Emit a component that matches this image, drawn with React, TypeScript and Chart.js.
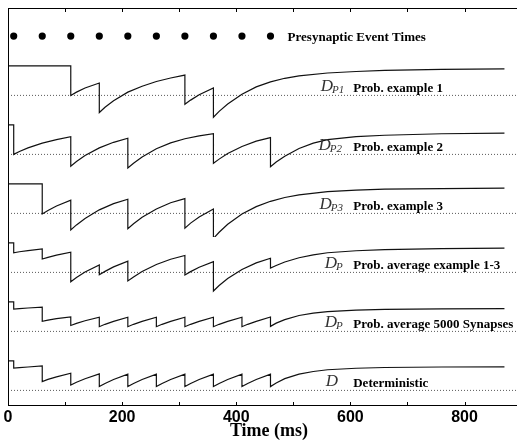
import React, { useEffect, useRef } from 'react';
import { Chart, registerables } from 'chart.js';

Chart.register(...registerables);

// ---------- data (time in ms, relative depression level D) ----------
const eventTimes = [10, 60, 110, 160, 210, 260, 310, 360, 410, 460];

const probEx1: [number, number][] = [
  [0, 1], [110, 1], [110, 0.5], [120, 0.555], [135, 0.625], [160, 0.71],
  [160, 0.21], [170, 0.3], [185, 0.41], [210, 0.555], [235, 0.655], [260, 0.735], [285, 0.795], [310, 0.845],
  [310, 0.35], [320, 0.42], [335, 0.51], [360, 0.625],
  [360, 0.13], [370, 0.23], [385, 0.355], [410, 0.52], [435, 0.645], [460, 0.73], [485, 0.79], [510, 0.83],
  [560, 0.88], [610, 0.905], [660, 0.925], [760, 0.94], [870, 0.948],
];

const probEx2: [number, number][] = [
  [0, 1], [10, 1], [10, 0.5], [20, 0.55], [35, 0.61], [60, 0.69], [85, 0.75], [110, 0.8],
  [110, 0.3], [120, 0.38], [135, 0.48], [160, 0.61], [185, 0.705], [210, 0.775],
  [210, 0.27], [220, 0.35], [235, 0.455], [260, 0.595], [285, 0.695], [310, 0.765], [335, 0.815], [360, 0.85],
  [360, 0.35], [370, 0.42], [385, 0.515], [410, 0.635], [435, 0.725], [460, 0.785],
  [460, 0.29], [470, 0.37], [485, 0.47], [510, 0.6], [535, 0.69], [560, 0.75], [610, 0.8], [660, 0.825],
  [760, 0.85], [870, 0.86],
];

const probEx3: [number, number][] = [
  [0, 1], [60, 1], [60, 0.49], [70, 0.55], [85, 0.625], [110, 0.725],
  [110, 0.22], [120, 0.305], [135, 0.415], [160, 0.56], [185, 0.665], [210, 0.74],
  [210, 0.24], [220, 0.325], [235, 0.435], [260, 0.575], [285, 0.68], [310, 0.75],
  [310, 0.25], [320, 0.335], [335, 0.44], [360, 0.575],
  [360, 0.075], [370, 0.18], [385, 0.315], [410, 0.49], [435, 0.615], [460, 0.705], [485, 0.77], [510, 0.815],
  [560, 0.87], [610, 0.895], [660, 0.91], [760, 0.92], [870, 0.927],
];

const probAvg13: [number, number][] = [
  [0, 1], [10, 1], [10, 0.833], [20, 0.85], [35, 0.87], [60, 0.897],
  [60, 0.727], [70, 0.755], [85, 0.792], [110, 0.842],
  [110, 0.34], [120, 0.413], [135, 0.507], [160, 0.627],
  [160, 0.46], [170, 0.517], [185, 0.593], [210, 0.69],
  [210, 0.355], [220, 0.423], [235, 0.515], [260, 0.635], [285, 0.723], [310, 0.787],
  [310, 0.455], [320, 0.513], [335, 0.588], [360, 0.683],
  [360, 0.185], [370, 0.277], [385, 0.395], [410, 0.548], [435, 0.662], [460, 0.74],
  [460, 0.575], [470, 0.618], [485, 0.677], [510, 0.748], [535, 0.796], [560, 0.833], [610, 0.867],
  [660, 0.887], [760, 0.903], [870, 0.912],
];

const prob5000: [number, number][] = [
  [0, 1], [10, 1], [10, 0.88], [20, 0.887], [35, 0.897], [60, 0.91],
  [60, 0.67], [70, 0.69], [85, 0.715], [110, 0.745],
  [110, 0.6], [120, 0.635], [135, 0.68], [160, 0.74],
  [160, 0.58], [170, 0.62], [185, 0.67], [210, 0.74],
  [210, 0.58], [220, 0.62], [235, 0.67], [260, 0.74],
  [260, 0.58], [270, 0.62], [285, 0.67], [310, 0.74],
  [310, 0.58], [320, 0.62], [335, 0.67], [360, 0.74],
  [360, 0.58], [370, 0.62], [385, 0.67], [410, 0.74],
  [410, 0.58], [420, 0.62], [435, 0.67], [460, 0.745],
  [460, 0.585], [470, 0.64], [485, 0.7], [510, 0.77], [535, 0.81], [560, 0.835], [610, 0.86],
  [660, 0.872], [760, 0.882], [870, 0.886],
];

const deterministic: [number, number][] = [
  [0, 1], [10, 1], [10, 0.876], [20, 0.885], [35, 0.897], [60, 0.915],
  [60, 0.65], [70, 0.686], [85, 0.73], [110, 0.79],
  [110, 0.59], [120, 0.638], [135, 0.698], [160, 0.78],
  [160, 0.565], [170, 0.618], [185, 0.685], [210, 0.775],
  [210, 0.565], [220, 0.618], [235, 0.685], [260, 0.775],
  [260, 0.565], [270, 0.618], [285, 0.685], [310, 0.775],
  [310, 0.565], [320, 0.618], [335, 0.685], [360, 0.775],
  [360, 0.565], [370, 0.618], [385, 0.685], [410, 0.775],
  [410, 0.565], [420, 0.618], [435, 0.685], [460, 0.775],
  [460, 0.565], [470, 0.625], [485, 0.7], [510, 0.775], [535, 0.82], [560, 0.85], [610, 0.875],
  [660, 0.888], [760, 0.897], [870, 0.9],
];

const baselineLevel = 0.5;
const eventRow = 0.46;

const traceNames = [
  'Prob. example 1',
  'Prob. example 2',
  'Prob. example 3',
  'Prob. average example 1-3',
  'Prob. average 5000 Synapses',
  'Deterministic',
];
const traceSymbolSubs = ['P1', 'P2', 'P3', 'P', 'P', ''];
const eventLabel = 'Presynaptic Event Times';
const xMinorTicks = [0, 100, 200, 300, 400, 500, 600, 700, 800];
const xLabelTicks = [0, 200, 400, 600, 800];
const xTitle = 'Time (ms)';

const X_MIN = 0;
const X_MAX = 892;

const W = 521;
const H = 443;

export default function App() {
  const ref = useRef<HTMLCanvasElement>(null);

  useEffect(() => {
    const canvas = ref.current;
    if (!canvas) return;
    const series = [probEx1, probEx2, probEx3, probAvg13, prob5000, deterministic];
    const axisIds = ['y1', 'y2', 'y3', 'y4', 'y5', 'y6'];
    const datasets: any[] = [];
    series.forEach((s, i) => {
      datasets.push({
        data: [{ x: X_MIN, y: baselineLevel }, { x: X_MAX, y: baselineLevel }],
        yAxisID: axisIds[i],
        borderColor: '#5a5a5a',
        borderWidth: 1,
        borderDash: [1, 2],
        pointRadius: 0,
        order: 3,
      });
      datasets.push({
        data: s.map(([x, y]) => ({ x, y })),
        yAxisID: axisIds[i],
        borderColor: '#111',
        borderWidth: 1.2,
        pointRadius: 0,
        tension: 0,
        order: 2,
      });
    });
    datasets.push({
      data: eventTimes.map((t) => ({ x: t, y: eventRow })),
      yAxisID: 'yEv',
      showLine: false,
      pointRadius: 3.6,
      pointBackgroundColor: '#000',
      pointBorderWidth: 0,
      order: 1,
    });

    const symbolX = [548, 544, 546, 555, 555, 557];

    const framePlugin = {
      id: 'frameAndText',
      afterDraw(chart: any) {
        const { ctx, chartArea: a, scales } = chart;
        const xs = scales.x;
        ctx.save();
        ctx.strokeStyle = '#000';
        ctx.lineWidth = 1;
        ctx.beginPath();
        ctx.moveTo(a.left + 0.5, a.top + 0.5);
        ctx.lineTo(a.right, a.top + 0.5);
        ctx.moveTo(a.left + 0.5, a.top);
        ctx.lineTo(a.left + 0.5, a.bottom);
        ctx.moveTo(a.left, a.bottom - 0.5);
        ctx.lineTo(a.right, a.bottom - 0.5);
        for (const v of xMinorTicks) {
          const px = Math.round(xs.getPixelForValue(v)) + 0.5;
          ctx.moveTo(px, a.top);
          ctx.lineTo(px, a.top + 4);
          ctx.moveTo(px, a.bottom);
          ctx.lineTo(px, a.bottom - 4);
        }
        ctx.stroke();

        ctx.fillStyle = '#000';
        ctx.textBaseline = 'alphabetic';
        ctx.textAlign = 'center';
        ctx.font = 'bold 16px "Liberation Sans", Arial, sans-serif';
        for (const v of xLabelTicks) {
          ctx.fillText(String(v), xs.getPixelForValue(v), a.bottom + 15.5);
        }
        ctx.font = 'bold 18px "Liberation Serif", "Times New Roman", serif';
        ctx.fillText(xTitle, (a.left + a.right) / 2 + 6.5, a.bottom + 30);

        ctx.textAlign = 'left';
        ctx.font = 'bold 13px "Liberation Serif", "Times New Roman", serif';
        const yEv = scales.yEv;
        ctx.fillText(eventLabel, xs.getPixelForValue(490), yEv.getPixelForValue(eventRow) + 4.5);

        axisIds.forEach((id, i) => {
          const ys = scales[id];
          const base = ys.getPixelForValue(baselineLevel);
          ctx.fillStyle = '#000';
          ctx.font = 'bold 13px "Liberation Serif", "Times New Roman", serif';
          ctx.fillText(traceNames[i], xs.getPixelForValue(605), base - 3);
          ctx.fillStyle = '#333';
          ctx.font = 'italic 17px "Liberation Serif", "Times New Roman", serif';
          const dx = xs.getPixelForValue(symbolX[i]);
          ctx.fillText('D', dx, base - 4);
          const dw = ctx.measureText('D').width;
          if (traceSymbolSubs[i]) {
            ctx.font = 'italic 11px "Liberation Serif", "Times New Roman", serif';
            ctx.fillText(traceSymbolSubs[i], dx + dw - 1, base - 2);
          }
        });
        ctx.restore();
      },
    };

    const traceAxis = (min: number, max: number, weight: number, stackWeight: number) => ({
      type: 'linear',
      min,
      max,
      display: false,
      position: 'left',
      stack: 'traces',
      stackWeight,
      weight,
    });

    const chart = new Chart(canvas, {
      type: 'line',
      data: { datasets },
      options: {
        animation: false,
        responsive: false,
        devicePixelRatio: 1,
        layout: { padding: { left: 8, top: 8, right: 0, bottom: 37 } },
        plugins: { legend: { display: false }, tooltip: { enabled: false } },
        scales: {
          x: { type: 'linear', min: X_MIN, max: X_MAX, display: false },
          yEv: traceAxis(0, 1, 7, 52),
          y1: traceAxis(0.1, 1.1, 6, 59),
          y2: traceAxis(0.1, 1.1, 5, 59),
          y3: traceAxis(0.1, 1.1, 4, 59),
          y4: traceAxis(0.1, 1.1, 3, 59),
          y5: traceAxis(0.1, 1.1, 2, 59),
          y6: traceAxis(0.2356, 1.1, 1, 51),
        } as any,
      },
      plugins: [framePlugin],
    } as any);

    return () => chart.destroy();
  }, []);

  return (
    <div style={{ position: 'fixed', left: 0, top: 0, width: W, height: H, background: '#fff' }}>
      <canvas ref={ref} width={W} height={H} style={{ display: 'block', width: W, height: H }} />
    </div>
  );
}
